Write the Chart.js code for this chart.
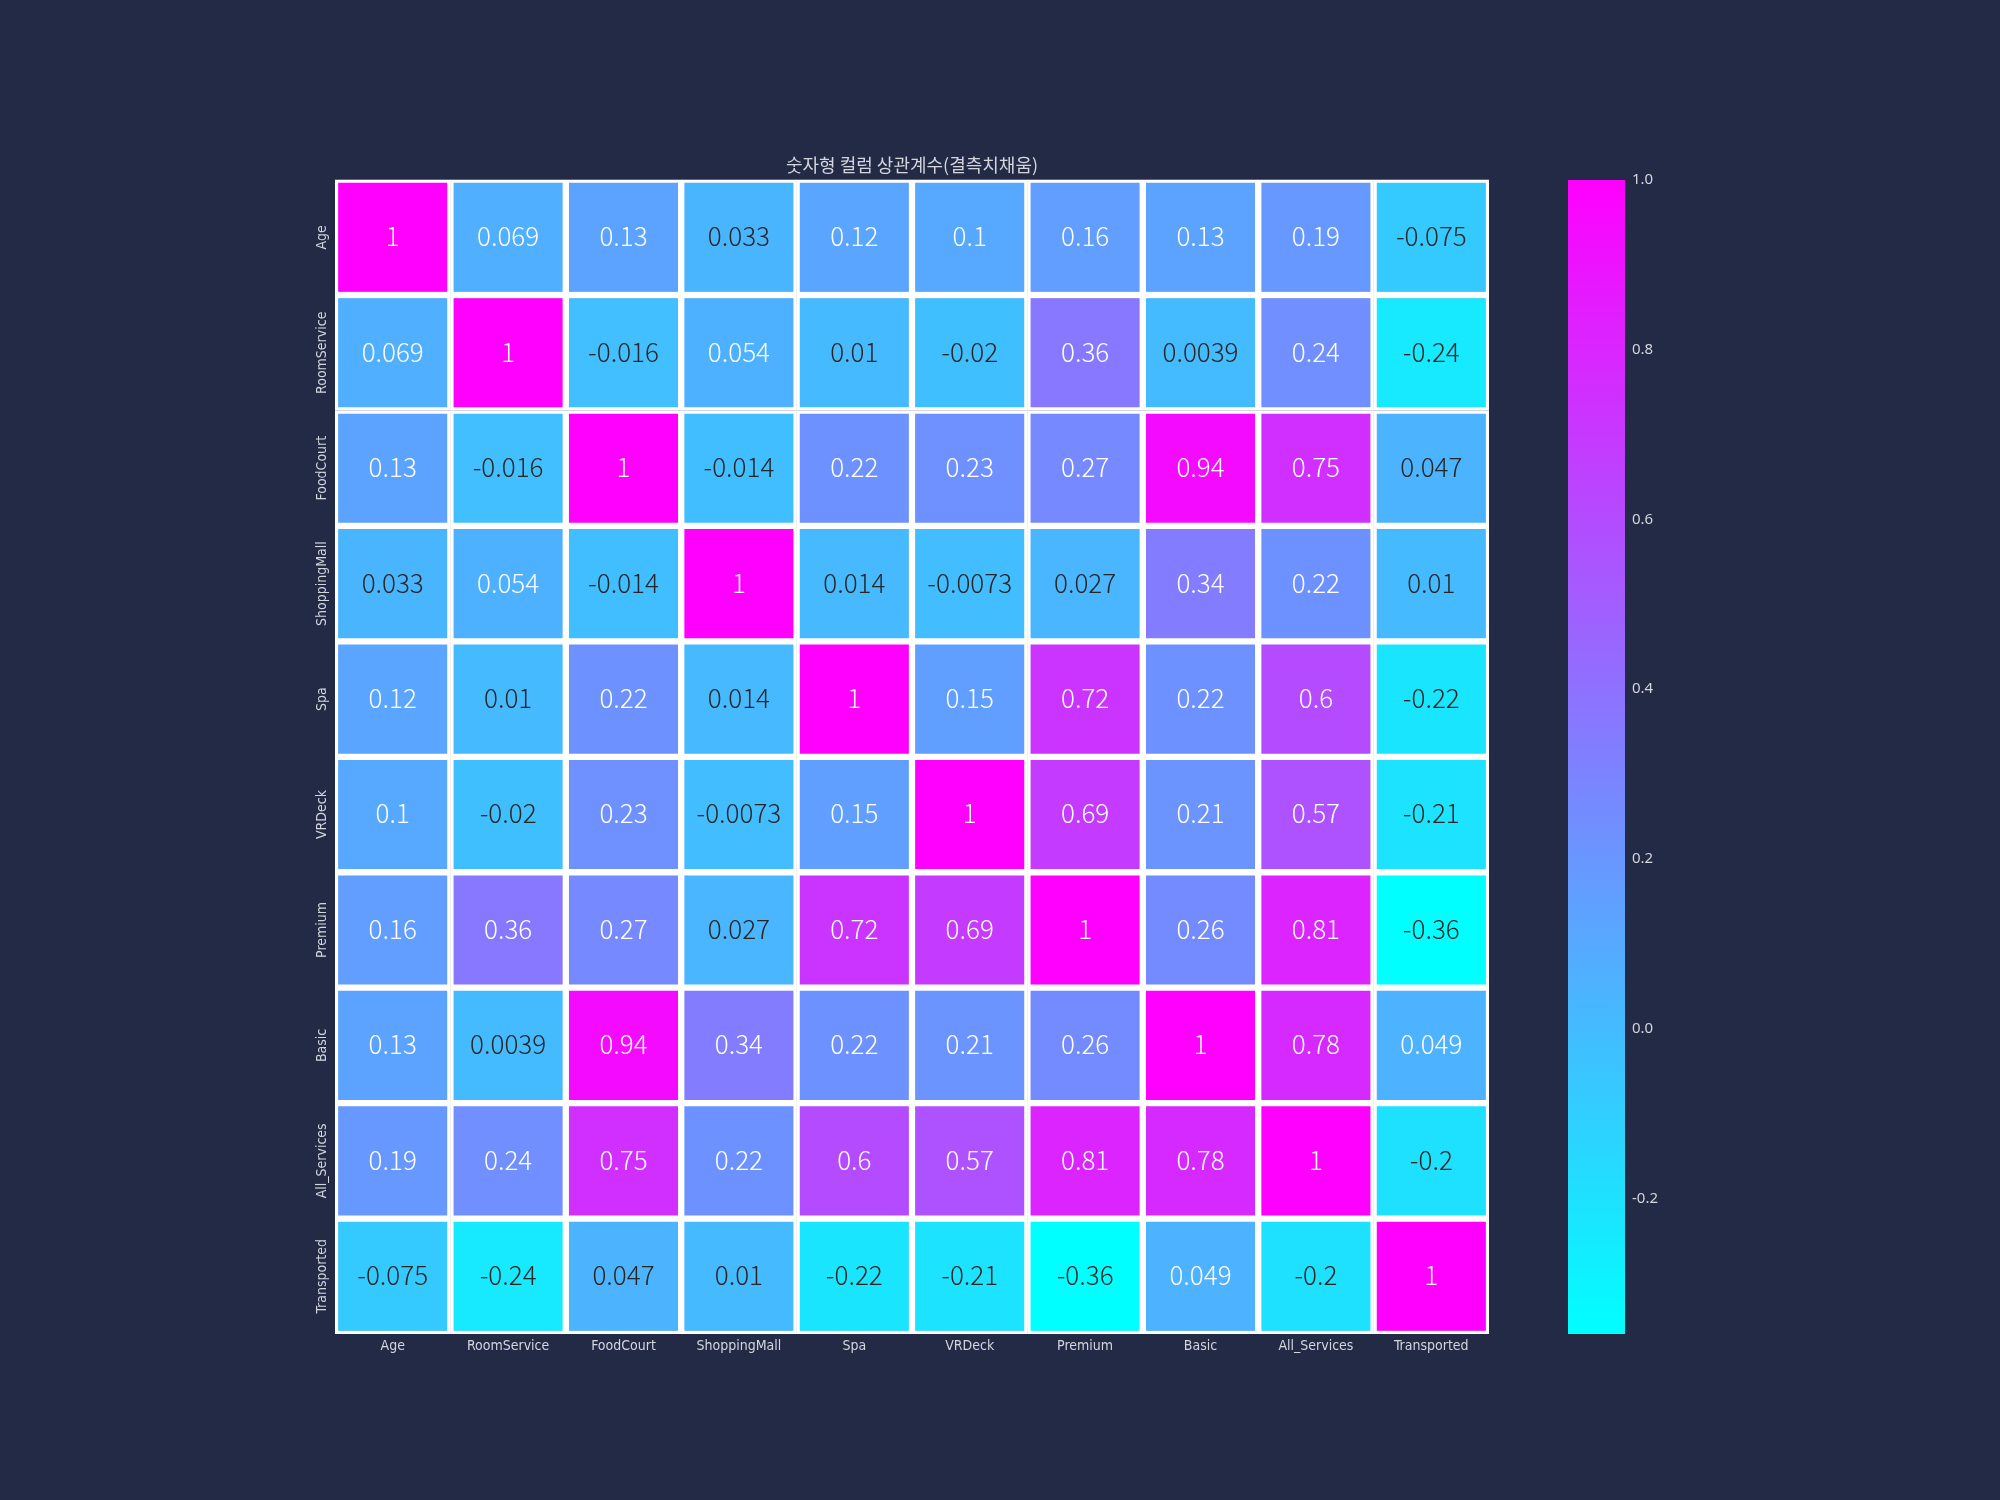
<!DOCTYPE html>
<html>
<head>
<meta charset="utf-8">
<script src="https://cdn.jsdelivr.net/npm/chart.js@4.4.1/dist/chart.umd.min.js"></script>
<style>
  body { margin: 0; background: #222a46; }
  #wrap { position: relative; width: 2000px; height: 1500px; }
  canvas { position: absolute; top: 0; }
  #heatmap { left: 0; }
  #colorbar { left: 1500px; }
</style>
</head>
<body>
<div id="wrap">
  <canvas id="heatmap" width="2000" height="1500"></canvas>
  <canvas id="colorbar" width="300" height="1500"></canvas>
</div>
<script>
const columns = ['Age', 'RoomService', 'FoodCourt', 'ShoppingMall', 'Spa', 'VRDeck', 'Premium', 'Basic', 'All_Services', 'Transported'];

// one row of the correlation matrix per column
const age          = [1, 0.069, 0.13, 0.033, 0.12, 0.1, 0.16, 0.13, 0.19, -0.075];
const roomService  = [0.069, 1, -0.016, 0.054, 0.01, -0.02, 0.36, 0.0039, 0.24, -0.24];
const foodCourt    = [0.13, -0.016, 1, -0.014, 0.22, 0.23, 0.27, 0.94, 0.75, 0.047];
const shoppingMall = [0.033, 0.054, -0.014, 1, 0.014, -0.0073, 0.027, 0.34, 0.22, 0.01];
const spa          = [0.12, 0.01, 0.22, 0.014, 1, 0.15, 0.72, 0.22, 0.6, -0.22];
const vrDeck       = [0.1, -0.02, 0.23, -0.0073, 0.15, 1, 0.69, 0.21, 0.57, -0.21];
const premium      = [0.16, 0.36, 0.27, 0.027, 0.72, 0.69, 1, 0.26, 0.81, -0.36];
const basic        = [0.13, 0.0039, 0.94, 0.34, 0.22, 0.21, 0.26, 1, 0.78, 0.049];
const allServices  = [0.19, 0.24, 0.75, 0.22, 0.6, 0.57, 0.81, 0.78, 1, -0.2];
const transported  = [-0.075, -0.24, 0.047, 0.01, -0.22, -0.21, -0.36, 0.049, -0.2, 1];

const colorbarTicks = [-0.2, 0, 0.2, 0.4, 0.6, 0.8, 1.0];

const corr = [age, roomService, foodCourt, shoppingMall, spa, vrDeck, premium, basic, allServices, transported];
const vmin = Math.min(...corr.flat());
const vmax = Math.max(...corr.flat());

const labelColor = '#d4d6dc';
const labelFont = "'Liberation Sans Narrow', 'DejaVu Sans Condensed', sans-serif";

// matplotlib 'cool' colormap
function coolColor(v) {
  const t = (v - vmin) / (vmax - vmin);
  return [Math.round(255 * t), Math.round(255 * (1 - t)), 255];
}

function luminance(rgb) {
  const lin = rgb.map(c => {
    c = c / 255;
    return c <= 0.03928 ? c / 12.92 : Math.pow((c + 0.055) / 1.055, 2.4);
  });
  return 0.2126 * lin[0] + 0.7152 * lin[1] + 0.0722 * lin[2];
}

const cellLabels = {
  id: 'cellLabels',
  afterDatasetsDraw(chart) {
    const ctx = chart.ctx;
    ctx.save();
    ctx.font = "300 26px 'Noto Sans CJK KR', 'Noto Sans', sans-serif";
    ctx.textAlign = 'center';
    ctx.textBaseline = 'middle';
    chart.data.datasets.forEach((ds, i) => {
      chart.getDatasetMeta(i).data.forEach((bar, j) => {
        const v = corr[i][j];
        const p = bar.getCenterPoint();
        ctx.fillStyle = luminance(coolColor(v)) > 0.408 ? '#262626' : '#ffffff';
        ctx.fillText(String(Number(v.toPrecision(2))), p.x, p.y - 1);
      });
    });
    ctx.restore();
  }
};

// row names, rotated, placed with the y scale
const rowLabels = {
  id: 'rowLabels',
  afterDraw(chart) {
    const ctx = chart.ctx;
    const y = chart.scales.y;
    ctx.save();
    ctx.font = `14px ${labelFont}`;
    ctx.fillStyle = labelColor;
    ctx.textAlign = 'center';
    ctx.textBaseline = 'middle';
    columns.forEach((name, i) => {
      ctx.save();
      ctx.translate(chart.chartArea.left - 13, y.getPixelForValue(i + 0.5));
      ctx.rotate(-Math.PI / 2);
      ctx.fillText(name, 0, 0);
      ctx.restore();
    });
    ctx.restore();
  }
};

new Chart(document.getElementById('heatmap').getContext('2d'), {
  type: 'bar',
  data: {
    labels: columns,
    datasets: corr.map((row, i) => ({
      label: columns[i],
      data: row.map(() => [i, i + 1]),
      backgroundColor: row.map(v => `rgb(${coolColor(v).join(',')})`),
      borderColor: '#ffffff',
      borderWidth: 3.5,
      borderSkipped: false,
      grouped: false,
      barPercentage: 1,
      categoryPercentage: 1
    }))
  },
  options: {
    responsive: false,
    animation: false,
    devicePixelRatio: 1,
    layout: { padding: { left: 335, right: 511, top: 154, bottom: 116 } },
    plugins: {
      legend: { display: false },
      tooltip: { enabled: false },
      title: {
        display: true,
        text: '숫자형 컬럼 상관계수(결측치채움)',
        color: labelColor,
        font: { family: "'Noto Sans CJK KR'", size: 18, weight: 'normal' },
        padding: { top: 0, bottom: 4 }
      }
    },
    scales: {
      x: {
        grid: { display: false, drawTicks: false },
        border: { display: false },
        ticks: { color: labelColor, font: { family: labelFont, size: 14 }, padding: 4, maxRotation: 0, autoSkip: false },
        afterFit: s => { s.height = 50; }
      },
      y: { display: false, min: 0, max: columns.length, reverse: true }
    }
  },
  plugins: [cellLabels, rowLabels]
});

new Chart(document.getElementById('colorbar').getContext('2d'), {
  type: 'bar',
  data: {
    labels: [''],
    datasets: [{
      data: [[vmin, vmax]],
      backgroundColor: c => {
        const area = c.chart.chartArea;
        if (!area) return 'rgb(0,255,255)';
        const g = c.chart.ctx.createLinearGradient(0, area.bottom, 0, area.top);
        g.addColorStop(0, 'rgb(0,255,255)');
        g.addColorStop(1, 'rgb(255,0,255)');
        return g;
      },
      borderWidth: 0,
      barPercentage: 1,
      categoryPercentage: 1
    }]
  },
  options: {
    responsive: false,
    animation: false,
    devicePixelRatio: 1,
    layout: { padding: { left: 68, right: 115, top: 180, bottom: 166 } },
    plugins: { legend: { display: false }, tooltip: { enabled: false } },
    scales: {
      x: { display: false },
      y: {
        position: 'right',
        min: vmin,
        max: vmax,
        grid: { display: false, drawTicks: false },
        border: { display: false },
        ticks: { color: labelColor, font: { family: "'Noto Sans', sans-serif", size: 15 }, padding: 7, callback: v => v.toFixed(1) },
        afterBuildTicks: s => { s.ticks = colorbarTicks.map(v => ({ value: v })); },
        afterFit: s => { s.width = 60; }
      }
    }
  }
});
</script>
</body>
</html>
